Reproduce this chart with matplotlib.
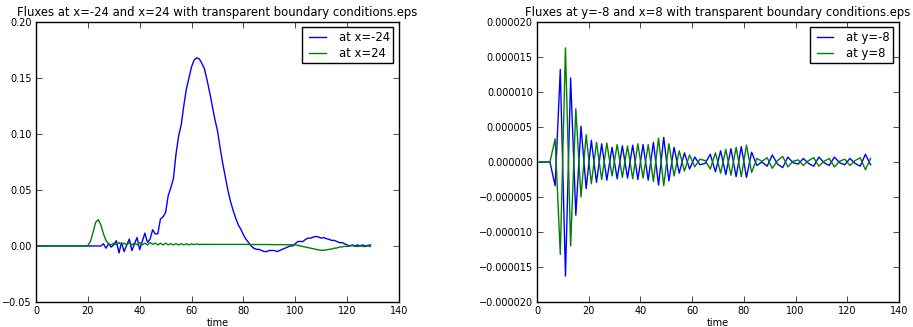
import matplotlib
matplotlib.use("Agg")
import matplotlib.pyplot as plt
import numpy as np
from matplotlib.ticker import FuncFormatter

# left panel: fluxes at x=-24 and x=24 (sampled every time unit, t = 0..129)
timeLeft = list(range(0, 130))
fluxXm24 = [0.0] * 25 + [
    0.000, 0.002, -0.002, 0.002, -0.001, 0.001, 0.0047, -0.0062, 0.003, -0.005,
    0.001, 0.0062, -0.0042, 0.002, 0.0076, -0.0033, 0.004, 0.0115, 0.0032, 0.006,
    0.0145, 0.0107, 0.011, 0.024, 0.026, 0.030, 0.045, 0.052, 0.060, 0.082,
    0.098, 0.108, 0.125, 0.140, 0.150, 0.160, 0.166, 0.168, 0.167, 0.163,
    0.158, 0.148, 0.137, 0.125, 0.113, 0.103, 0.088, 0.074, 0.062, 0.050,
    0.040, 0.032, 0.025, 0.019, 0.015, 0.010, 0.006, 0.003, 0.000, -0.002,
    -0.003, -0.003, -0.004, -0.005, -0.005, -0.004, -0.004, -0.004, -0.005, -0.004,
    -0.003, -0.002, -0.001, 0.000, 0.000, 0.002, 0.004, 0.004, 0.004, 0.006,
    0.007, 0.007, 0.008, 0.0085, 0.008, 0.007, 0.0075, 0.0065, 0.006, 0.005,
    0.005, 0.004, 0.003, 0.003, 0.002, 0.001, 0.000, 0.001, 0.000, 0.001,
    0.000, 0.001, 0.000, 0.0005, 0.001,
]
fluxX24 = [0.0] * 20 + [
    0.0005, 0.004, 0.012, 0.021, 0.0235, 0.019, 0.011, 0.005, 0.002, 0.001,
    0.0025, 0.001, 0.003, 0.001, 0.0025, 0.001, 0.003, 0.001, 0.0025, 0.001,
    0.003, 0.001, 0.0025, 0.001, 0.003, 0.0015, 0.0025, 0.001, 0.0025, 0.001,
    0.0025, 0.001, 0.002, 0.001, 0.002, 0.001, 0.002, 0.001, 0.002, 0.001,
    0.0018, 0.0012, 0.0018, 0.0012, 0.0016, 0.0013, 0.0015, 0.0013, 0.0015, 0.0014,
    0.0014, 0.0014, 0.0014, 0.0014, 0.0014, 0.0014, 0.0014, 0.0014, 0.0014, 0.0014,
    0.0014, 0.0014, 0.0014, 0.0013, 0.0013, 0.0013, 0.0013, 0.0013, 0.0013, 0.0013,
    0.0013, 0.0012, 0.0012, 0.0012, 0.0012, 0.0012, 0.0011, 0.0011, 0.0011, 0.0011,
    0.001, 0.0005, 0.000, -0.0005, -0.001, -0.0015, -0.002, -0.0025, -0.003, -0.0035,
    -0.0038, -0.0038, -0.0035, -0.003, -0.0028, -0.002, -0.0018, -0.001, -0.0008, -0.0003,
    -0.0005, 0.000, 0.0003, -0.0003, -0.0005, 0.000, -0.0003, -0.0006, 0.000, -0.0005,
]

# right panel: fluxes at y=-8 and y=8 (sampled every 2 time units), in 1e-6
timeRight = list(range(1, 130, 2))
fluxYm8 = [
    0.0, 0.0, 0.0, -3.4, 13.2, -16.3, 12.0, -7.6, 5.1, -3.8,
    3.1, -2.9, 2.6, -2.6, 2.1, -2.4, 2.3, -2.3, 2.4, -2.5,
    2.5, -2.6, 2.8, -3.3, 3.5, -2.7, 2.1, -1.6, 1.3, -1.0,
    0.7, -0.4, -0.2, 1.1, -1.4, 1.6, -1.8, 1.9, -2.1, 2.2,
    -2.2, 1.4, -0.5, 0.0, -0.6, 1.0, -0.3, -0.8, 0.7, -0.1,
    -0.3, 0.5, -0.2, -0.6, 0.7, -0.1, -0.5, 0.7, -0.1, -0.4,
    0.5, -0.2, -0.6, 1.1, -0.4,
]
fluxY8 = [
    0.0, 0.0, 0.0, 3.3, -13.2, 16.3, -12.0, 7.6, -5.0, 3.9,
    -3.1, 2.8, -2.5, 2.7, -2.0, 2.5, -2.2, 2.3, -2.4, 2.6,
    -2.3, 2.5, -2.8, 3.4, -3.4, 2.6, -2.0, 1.6, -1.3, 1.0,
    -0.7, 0.4, 0.2, -1.0, 1.3, -1.6, 1.8, -1.9, 2.1, -2.1,
    2.4, -1.5, 0.5, 0.1, 0.6, -0.9, 0.2, 0.8, -0.7, 0.1,
    0.3, -0.5, 0.2, 0.6, -0.6, 0.1, 0.5, -0.7, 0.1, 0.4,
    -0.5, 0.2, 0.6, -1.1, 0.5,
]

plt.rcParams.update({
    "font.family": "DejaVu Sans",
    "font.size": 7,
    "axes.linewidth": 1.0,
    "xtick.direction": "in",
    "ytick.direction": "in",
    "xtick.top": True,
    "ytick.right": True,
    "xtick.major.size": 4,
    "ytick.major.size": 4,
    "xtick.major.width": 0.5,
    "ytick.major.width": 0.5,
    "xtick.major.pad": 3,
    "ytick.major.pad": 3,
})


def minusFormatter(fmt):
    return FuncFormatter(lambda v, pos: (fmt % v).replace("-", "\u2212"))


fig = plt.figure(figsize=(9.13, 3.27), dpi=100)
fig.patch.set_facecolor("white")

legendKw = dict(loc="upper right", fontsize=8.4, numpoints=2, handlelength=2.0,
                handletextpad=0.8, borderpad=0.3, labelspacing=0.25,
                borderaxespad=0, fancybox=False, framealpha=1, edgecolor="black")

axL = fig.add_axes([0.0394, 0.0765, 0.3976, 0.8563])
axL.plot(timeLeft, fluxXm24, color="#0000ff", lw=1.0, label="at x=-24")
axL.plot(timeLeft, fluxX24, color="#008000", lw=1.0, label="at x=24")
axL.set_xlim(0, 140)
axL.set_ylim(-0.05, 0.20)
axL.set_yticks([-0.05, 0.0, 0.05, 0.10, 0.15, 0.20])
axL.yaxis.set_major_formatter(minusFormatter("%.2f"))
axL.set_xlabel("time", fontsize=7, labelpad=1)
axL.set_title("Fluxes at x=-24 and x=24 with transparent boundary conditions.eps",
              fontsize=8.4, pad=4.5)
legL = axL.legend(bbox_to_anchor=(0.984, 0.981), **legendKw)
legL.get_frame().set_linewidth(1.0)

axR = fig.add_axes([0.5882, 0.0765, 0.3965, 0.8563])
axR.plot(timeRight, np.array(fluxYm8) * 1e-6, color="#0000ff", lw=1.0, label="at y=-8")
axR.plot(timeRight, np.array(fluxY8) * 1e-6, color="#008000", lw=1.0, label="at y=8")
axR.set_xlim(0, 140)
axR.set_ylim(-0.00002, 0.00002)
axR.set_yticks([-0.00002, -0.000015, -0.00001, -0.000005, 0.0, 0.000005, 0.00001, 0.000015, 0.00002])
axR.yaxis.set_major_formatter(minusFormatter("%.6f"))
axR.set_xlabel("time", fontsize=7, labelpad=1)
axR.set_title("Fluxes at y=-8 and x=8 with transparent boundary conditions.eps",
              fontsize=8.4, pad=4.5)
legR = axR.legend(bbox_to_anchor=(0.984, 0.981), **legendKw)
legR.get_frame().set_linewidth(1.0)

fig.savefig("out.png", dpi=100, facecolor="white")
